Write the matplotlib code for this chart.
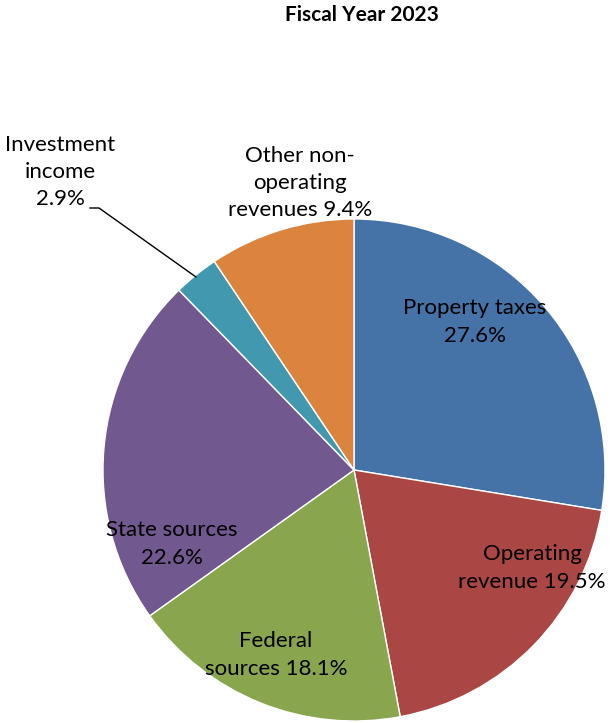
import matplotlib
matplotlib.use("Agg")
import matplotlib.pyplot as plt

plt.rcParams['font.family'] = ['Lato', 'DejaVu Sans']

labels = ["Property taxes", "Operating revenue", "Federal sources",
          "State sources", "Investment income", "Other non-operating revenues"]
values = [27.6, 19.5, 18.1, 22.6, 2.9, 9.4]
colors = ["#4572A7", "#AA4643", "#89A54E", "#71588F", "#4198AF", "#DB843D"]

W, H = 611, 723
fig = plt.figure(figsize=(W / 100, H / 100), dpi=100)
ax = fig.add_axes([0, 0, 1, 1])
ax.set_aspect('equal')

cx, cy, r = 354, H - 470, 251
ax.pie(values, colors=colors, startangle=90, counterclock=False,
       center=(cx, cy), radius=r, frame=True,
       wedgeprops=dict(linewidth=1, edgecolor='white'))
ax.set_xlim(0, W)
ax.set_ylim(0, H)
ax.axis('off')

fs = 16
texts = [
    ("Property taxes\n%.1f%%" % values[0], 475, 322),
    ("Operating\nrevenue %.1f%%" % values[1], 532, 568),
    ("Federal\nsources %.1f%%" % values[2], 276, 655),
    ("State sources\n%.1f%%" % values[3], 172, 544),
    ("Investment\nincome\n%.1f%%" % values[4], 60, 172),
    ("Other non-\noperating\nrevenues %.1f%%" % values[5], 300, 183),
]
for t, x, y in texts:
    ax.text(x, H - y, t, ha='center', va='center', fontsize=fs,
            linespacing=1.45, color='black')

# leader line for investment income
ax.plot([90, 99, 196], [H - 208, H - 208, H - 277], color='black', lw=1)

ax.text(362, H - 15, "Fiscal Year 2023", ha='center', va='center',
        fontsize=15, fontweight='bold')

fig.savefig("out.png", dpi=100)
